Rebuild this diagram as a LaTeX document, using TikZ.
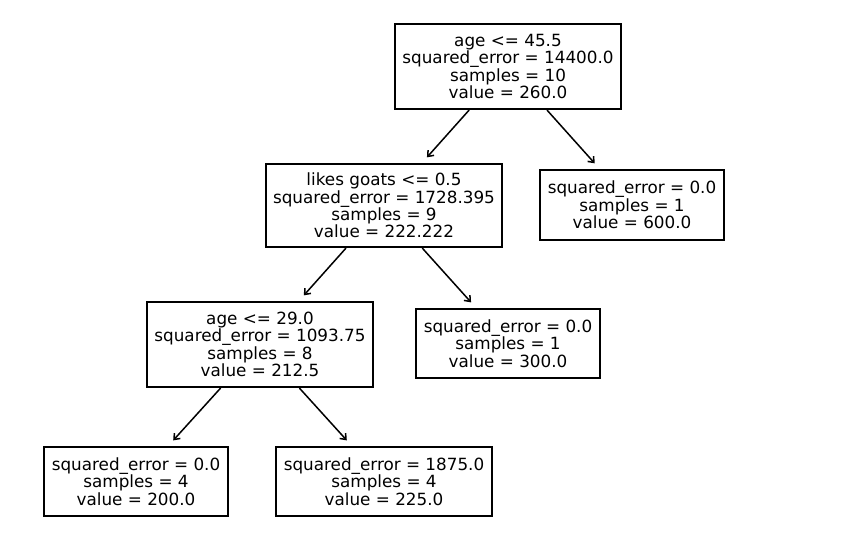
\documentclass[tikz,border=0pt]{standalone}
\usepackage{fontspec}
\setmainfont{DejaVu Sans}
\usetikzlibrary{arrows.meta}
\begin{document}
\begin{tikzpicture}[x=1pt,y=-1pt,
  tbox/.style={draw=black,line width=1.4pt,fill=white,inner sep=0pt,align=center,
    font=\fontsize{16.8}{17.3}\selectfont},
  edge/.style={line width=1.5pt,-{Straight Barb[length=5pt,width=8pt,line width=1.5pt]},shorten >=8pt,shorten <=0.5pt}]
\useasboundingbox[fill=white] (0,0) rectangle (842,546);
\node[tbox,minimum width=226pt,minimum height=85pt] (root) at (508,66.5)
  {age <= 45.5\\squared\_error = 14400.0\\samples = 10\\value = 260.0};
\node[tbox,minimum width=236pt,minimum height=83pt] (lg) at (384,205.5)
  {likes goats <= 0.5\\squared\_error = 1728.395\\samples = 9\\value = 222.222};
\node[tbox,minimum width=184pt,minimum height=70pt] (l600) at (632,205)
  {squared\_error = 0.0\\samples = 1\\value = 600.0};
\node[tbox,minimum width=226pt,minimum height=85pt] (age29) at (260,344.5)
  {age <= 29.0\\squared\_error = 1093.75\\samples = 8\\value = 212.5};
\node[tbox,minimum width=184pt,minimum height=69pt] (l300) at (508,343.5)
  {squared\_error = 0.0\\samples = 1\\value = 300.0};
\node[tbox,minimum width=184pt,minimum height=69pt] (l200) at (136,481.5)
  {squared\_error = 0.0\\samples = 4\\value = 200.0};
\node[tbox,minimum width=216pt,minimum height=69pt] (l225) at (384,481.5)
  {squared\_error = 1875.0\\samples = 4\\value = 225.0};
\draw[edge] (root) -- (lg);
\draw[edge] (root) -- (l600);
\draw[edge] (lg) -- (age29);
\draw[edge] (lg) -- (l300);
\draw[edge] (age29) -- (l200);
\draw[edge] (age29) -- (l225);
\end{tikzpicture}
\end{document}
